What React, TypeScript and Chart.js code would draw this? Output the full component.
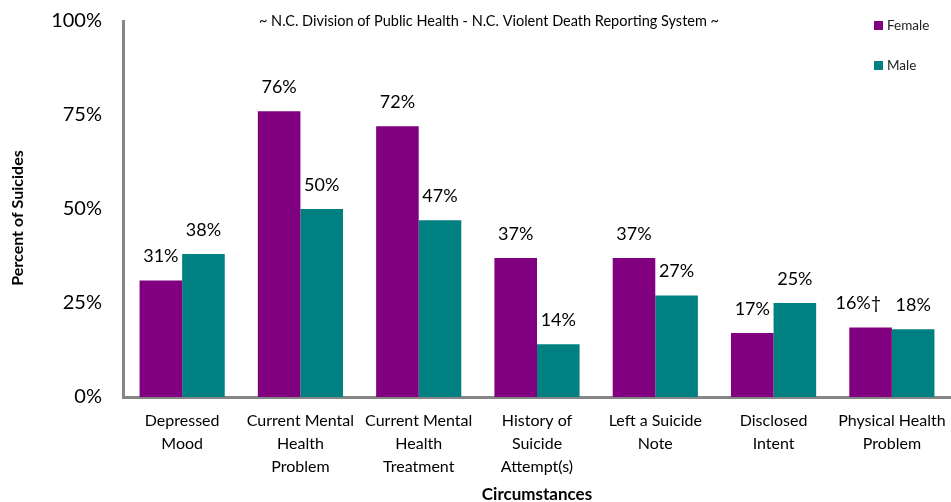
import React, { useEffect, useRef } from "react";
import { Chart, registerables } from "chart.js";

Chart.register(...registerables);

const categories: string[][] = [
  ["Depressed", "Mood"],
  ["Current Mental", "Health", "Problem"],
  ["Current Mental", "Health", "Treatment"],
  ["History of", "Suicide", "Attempt(s)"],
  ["Left a Suicide", "Note"],
  ["Disclosed", "Intent"],
  ["Physical Health", "Problem"],
];
const femaleValues = [31, 76, 72, 37, 37, 17, 18.5];
const maleValues = [38, 50, 47, 14, 27, 25, 18];
const femaleLabels = ["31%", "76%", "72%", "37%", "37%", "17%", "16%†"];
const maleLabels = ["38%", "50%", "47%", "14%", "27%", "25%", "18%"];
const yTicks = [0, 25, 50, 75, 100];
const seriesNames = ["Female", "Male"];
const seriesColors = ["#800080", "#008080"];
const subtitle = "~ N.C. Division of Public Health - N.C. Violent Death Reporting System ~";
const yTitle = "Percent of Suicides";
const xTitle = "Circumstances";

const FONT = "Lato, 'Open Sans', sans-serif";

const overlayPlugin = {
  id: "overlay",
  afterDatasetsDraw(chart: any) {
    const ctx = chart.ctx;
    const area = chart.chartArea;
    ctx.save();
    // data labels
    const labelSets = [femaleLabels, maleLabels];
    ctx.fillStyle = "#000";
    ctx.font = `18px ${FONT}`;
    ctx.textBaseline = "middle";
    chart.data.datasets.forEach((ds: any, di: number) => {
      const meta = chart.getDatasetMeta(di);
      meta.data.forEach((bar: any, i: number) => {
        const text = labelSets[di][i];
        if (text.endsWith("†")) {
          // footnoted label sits left of the bar centre, as in the source
          ctx.textAlign = "right";
          ctx.fillText(text, bar.x + bar.width * 0.25, bar.y - 24);
        } else {
          ctx.textAlign = "center";
          ctx.fillText(text, bar.x, bar.y - 24);
        }
      });
    });
    // subtitle
    ctx.textAlign = "center";
    ctx.font = `14.5px ${FONT}`;
    ctx.fillStyle = "#000";
    ctx.fillText(subtitle, 489, 21);
    // legend
    ctx.textAlign = "left";
    seriesNames.forEach((name, i) => {
      const y = 25 + i * 40;
      ctx.fillStyle = seriesColors[i];
      ctx.fillRect(874, y - 4, 9, 9);
      ctx.fillStyle = "#222";
      ctx.font = `13.5px ${FONT}`;
      ctx.fillText(name, 887, y + 1);
    });
    // axis titles
    ctx.fillStyle = "#000";
    ctx.font = `bold 17px ${FONT}`;
    ctx.textAlign = "center";
    ctx.fillText(xTitle, (area.left + area.right) / 2, 495);
    ctx.font = `bold 16px ${FONT}`;
    ctx.translate(18, 218);
    ctx.rotate(-Math.PI / 2);
    ctx.fillText(yTitle, 0, 0);
    ctx.restore();
  },
};

export default function App() {
  const canvasRef = useRef<HTMLCanvasElement | null>(null);
  useEffect(() => {
    if (!canvasRef.current) return;
    const chart = new Chart(canvasRef.current, {
      type: "bar",
      data: {
        labels: categories as any,
        datasets: [
          {
            label: seriesNames[0],
            data: femaleValues,
            backgroundColor: seriesColors[0],
            categoryPercentage: 0.72,
            barPercentage: 1.0,
          },
          {
            label: seriesNames[1],
            data: maleValues,
            backgroundColor: seriesColors[1],
            categoryPercentage: 0.72,
            barPercentage: 1.0,
          },
        ],
      },
      options: {
        animation: false,
        responsive: false,
        maintainAspectRatio: false,
        layout: { padding: { top: 21, right: 0, left: 0, bottom: 0 } },
        plugins: {
          legend: { display: false },
          tooltip: { enabled: false },
          title: { display: false },
        },
        scales: {
          x: {
            grid: { display: false, drawTicks: false },
            border: { display: true, color: "#868686", width: 3 },
            ticks: {
              autoSkip: false,
              maxRotation: 0,
              minRotation: 0,
              padding: 12,
              color: "#000",
              font: { family: FONT, size: 16, lineHeight: 1.45 },
            },
            afterFit(scale: any) {
              scale.height = 105;
              scale.paddingLeft = 0;
              scale.paddingRight = 0;
            },
          },
          y: {
            min: 0,
            max: 100,
            grid: { display: false, drawTicks: false },
            border: { display: true, color: "#868686", width: 3 },
            afterBuildTicks(scale: any) {
              scale.ticks = yTicks.map((v) => ({ value: v }));
            },
            ticks: {
              padding: 21,
              color: "#000",
              font: { family: FONT, size: 20 },
              callback: (v: any) => `${v}%`,
            },
            afterFit(scale: any) {
              scale.width = 123;
              scale.paddingTop = 0;
              scale.paddingBottom = 0;
            },
          },
        },
      },
      plugins: [overlayPlugin],
    });
    return () => chart.destroy();
  }, []);
  return (
    <div style={{ position: "fixed", left: 0, top: 0, width: 951, height: 502, background: "#fff" }}>
      <canvas ref={canvasRef} width={951} height={502} style={{ width: 951, height: 502 }} />
    </div>
  );
}
